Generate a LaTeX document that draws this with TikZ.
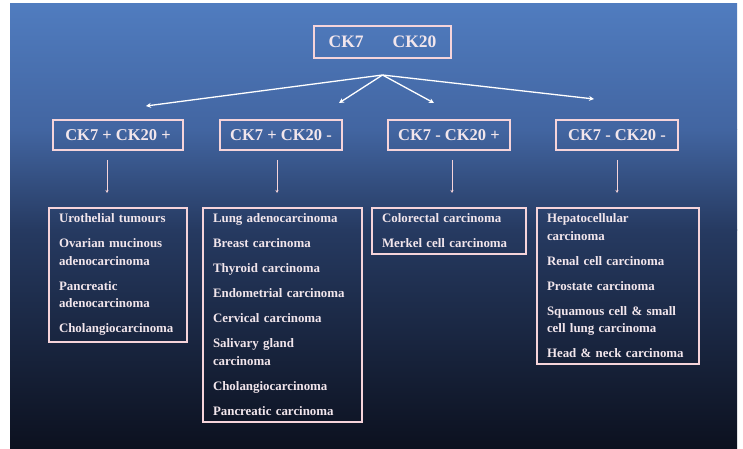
\documentclass[tikz,border=0pt]{standalone}
\usepackage{fontspec}
\setmainfont{Liberation Serif}
\usetikzlibrary{arrows.meta}

\definecolor{bgtop}{RGB}{80,124,191}
\definecolor{bgmid}{RGB}{66,101,161}
\definecolor{bglow}{RGB}{38,58,97}
\definecolor{bgdark}{RGB}{25,37,63}
\definecolor{bgbottom}{RGB}{12,17,31}
\definecolor{framepink}{RGB}{246,212,218}
\definecolor{textpink}{RGB}{242,230,236}

\tikzset{
  markerbox/.style={draw=framepink, line width=2pt, text=textpink,
    font=\fontsize{16.5}{20}\selectfont\bfseries, minimum height=30pt, inner sep=0pt},
  listbox/.style={draw=framepink, line width=2pt, text=textpink,
    font=\fontsize{12.9}{17.5}\selectfont\bfseries, align=left, anchor=north,
    inner xsep=10pt, inner ysep=6pt},
  fanarrow/.style={draw=white, line width=1.3pt, -{Stealth[length=5pt,width=5pt]}},
  droparrow/.style={draw=framepink, line width=0.8pt, -{Stealth[length=3pt,width=3pt]},
    shorten <=9pt, shorten >=14pt},
}

\begin{document}
\begin{tikzpicture}[x=1pt,y=-1pt]
    \useasboundingbox (0,0) rectangle (743,449);
    \fill[white] (0,0) rectangle (743,449);
    % background
    \shade[top color=bgtop, bottom color=bgmid] (10,4) rectangle (737,130);
    \shade[top color=bgmid, bottom color=bglow] (10,129.5) rectangle (737,230);
    \shade[top color=bglow, middle color=bgdark, bottom color=bgbottom] (10,229.5) rectangle (737,449);

    \node[markerbox, minimum width=137pt, minimum height=32pt, font=\fontsize{17.5}{20}\selectfont\bfseries] (ck) at (382.5,42) {CK7\hspace{29pt}CK20};

    \node[markerbox, minimum width=130pt] (pp) at (118,135) {CK7 + CK20 +};
    \node[markerbox, minimum width=122pt] (pm) at (281,135) {CK7 + CK20 -};
    \node[markerbox, minimum width=122pt] (mp) at (449,135) {CK7 - CK20 +};
    \node[markerbox, minimum width=122pt] (mm) at (617,135) {CK7 - CK20 -};

    \node[listbox, text width=118pt] (ppl) at (118,207) {Urothelial tumours\\[7.5pt]
        Ovarian mucinous\\ adenocarcinoma\\[7.5pt]
        Pancreatic\\ adenocarcinoma\\[7.5pt]
        Cholangiocarcinoma};
    \node[listbox, text width=139pt] (pml) at (282.5,207) {Lung adenocarcinoma\\[7.5pt]
        Breast carcinoma\\[7.5pt]
        Thyroid carcinoma\\[7.5pt]
        Endometrial carcinoma\\[7.5pt]
        Cervical carcinoma\\[7.5pt]
        Salivary gland\\ carcinoma\\[7.5pt]
        Cholangiocarcinoma\\[7.5pt]
        Pancreatic carcinoma};
    \node[listbox, text width=134pt] (mpl) at (449,207) {Colorectal carcinoma\\[7.5pt]
        Merkel cell carcinoma};
    \node[listbox, text width=142pt] (mml) at (618,207) {Hepatocellular\\ carcinoma\\[7.5pt]
        Renal cell carcinoma\\[7.5pt]
        Prostate carcinoma\\[7.5pt]
        Squamous cell \& small\\ cell lung carcinoma\\[7.5pt]
        Head \& neck carcinoma};

    % fan below the top box
    \coordinate (hub) at ([yshift=-16pt]ck.south);
    \coordinate (e1) at ([xshift=28pt,yshift=13pt]pp.north);
    \coordinate (e2) at ([xshift=58pt,yshift=16pt]pm.north);
    \coordinate (e3) at ([xshift=-15pt,yshift=16pt]mp.north);
    \coordinate (e4) at ([xshift=-23pt,yshift=20pt]mm.north);
    \draw[fanarrow] (hub) -- (e1);
    \draw[fanarrow] (hub) -- (e2);
    \draw[fanarrow] (hub) -- (e3);
    \draw[fanarrow] (hub) -- (e4);

    \draw[droparrow] ([xshift=-11pt]pp.south) -- ([xshift=-11pt]pp.south |- ppl.north);
    \draw[droparrow] ([xshift=-4pt]pm.south) -- ([xshift=-4pt]pm.south |- pml.north);
    \draw[droparrow] ([xshift=3pt]mp.south) -- ([xshift=3pt]mp.south |- mpl.north);
    \draw[droparrow] (mm.south) -- (mm.south |- mml.north);
\end{tikzpicture}
\end{document}
